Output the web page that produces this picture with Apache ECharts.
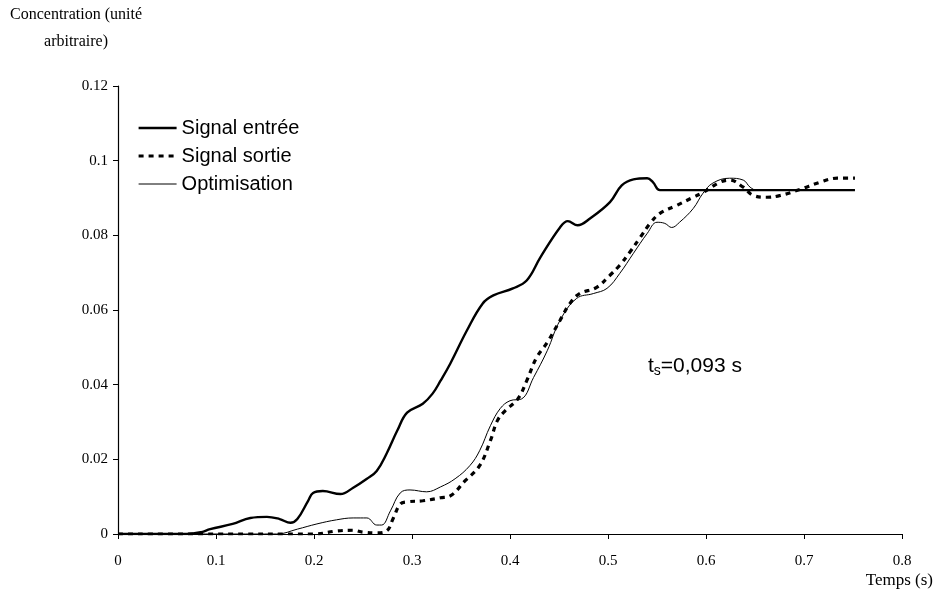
<!DOCTYPE html>
<html>
<head>
<meta charset="utf-8">
<script src="https://cdn.jsdelivr.net/npm/echarts@6/dist/echarts.min.js"></script>
<style>
  html, body { margin: 0; padding: 0; background: #fff; }
  #chart { width: 934px; height: 598px; }
</style>
</head>
<body>
<div id="chart"></div>
<script>
// time (s) / concentration pairs
const entreeT = [0, 0.07, 0.085, 0.094, 0.117, 0.135, 0.152, 0.165, 0.176, 0.183, 0.194, 0.199, 0.209, 0.227, 0.24, 0.254, 0.264, 0.274, 0.285, 0.295, 0.311, 0.321, 0.329, 0.339, 0.356, 0.372, 0.383, 0.403, 0.417, 0.431, 0.451, 0.459, 0.469, 0.482, 0.502, 0.514, 0.526, 0.54, 0.546, 0.553, 0.6, 0.7, 0.752]
const entreeC = [0, 0, 0.0005, 0.0013, 0.0027, 0.0043, 0.0046, 0.004, 0.003, 0.004, 0.0089, 0.011, 0.0115, 0.0107, 0.0124, 0.0148, 0.0169, 0.0215, 0.0277, 0.0325, 0.0349, 0.0376, 0.041, 0.0456, 0.0545, 0.0617, 0.0639, 0.0658, 0.0679, 0.0741, 0.0821, 0.0838, 0.0827, 0.0846, 0.0889, 0.0934, 0.095, 0.0953, 0.0942, 0.0921, 0.0921, 0.0921, 0.0921]

const sortieT = [0, 0.1, 0.2, 0.223, 0.24, 0.25, 0.264, 0.274, 0.281, 0.288, 0.295, 0.311, 0.329, 0.339, 0.354, 0.369, 0.38, 0.387, 0.395, 0.408, 0.417, 0.427, 0.438, 0.451, 0.461, 0.471, 0.488, 0.502, 0.512, 0.522, 0.533, 0.543, 0.553, 0.57, 0.587, 0.597, 0.614, 0.624, 0.638, 0.648, 0.662, 0.676, 0.696, 0.716, 0.734, 0.752]
const sortieC = [0, 0, 0, 0.0008, 0.001, 0.0005, 0.0003, 0.0008, 0.0043, 0.008, 0.0086, 0.0089, 0.0097, 0.0102, 0.0142, 0.0183, 0.025, 0.0303, 0.033, 0.0362, 0.041, 0.0472, 0.0513, 0.0572, 0.0617, 0.0644, 0.066, 0.0693, 0.072, 0.0754, 0.0795, 0.0832, 0.0859, 0.088, 0.0902, 0.0915, 0.0942, 0.0948, 0.0929, 0.0907, 0.0902, 0.0907, 0.0923, 0.0942, 0.0953, 0.0953]

const optimT = [0, 0.162, 0.183, 0.203, 0.223, 0.24, 0.254, 0.264, 0.269, 0.278, 0.288, 0.298, 0.315, 0.329, 0.344, 0.359, 0.369, 0.38, 0.39, 0.4, 0.412, 0.424, 0.438, 0.451, 0.468, 0.485, 0.499, 0.512, 0.526, 0.54, 0.55, 0.558, 0.565, 0.573, 0.587, 0.597, 0.607, 0.624, 0.638, 0.645, 0.652, 0.7, 0.752]
const optimC = [0, 0, 0.0013, 0.0027, 0.0038, 0.0043, 0.0043, 0.0024, 0.0024, 0.0062, 0.011, 0.0118, 0.0113, 0.0126, 0.0148, 0.0183, 0.0223, 0.029, 0.0336, 0.0357, 0.0362, 0.0419, 0.0491, 0.0572, 0.0631, 0.0644, 0.0658, 0.0698, 0.0752, 0.0805, 0.0835, 0.0832, 0.0821, 0.0835, 0.0872, 0.0913, 0.094, 0.0953, 0.0948, 0.0929, 0.0921, 0.0921, 0.0921]

const seriesNames = ['Signal entrée', 'Signal sortie', 'Optimisation']

const zip = (t, c) => t.map((v, i) => [v, c[i]])

const serif = '"Liberation Serif", "DejaVu Serif", serif'
const sans = '"Liberation Sans", Arial, sans-serif'

const lineStyles = [
  { color: '#000', width: 2.4, type: 'solid' },
  { color: '#000', width: 3.2, type: [5, 5] },
  { color: '#000', width: 1, type: 'solid' }
]

const baseSerie = () => {
  return {
    type: 'line',
    smooth: 0.4,
    symbol: 'none',
    color: '#000',
    itemStyle: { color: '#000' },
    z: 3
  }
}

const option = {
  animation: false,
  grid: { left: 118, right: 32, top: 86, bottom: 64 },
  legend: {
    orient: 'vertical',
    left: 132,
    top: 113,
    itemWidth: 38,
    itemHeight: 14,
    itemGap: 8,
    itemStyle: { opacity: 0 },
    textStyle: { fontFamily: sans, fontSize: 20, color: '#000' },
    data: seriesNames.map((n, i) => ({ name: n, lineStyle: lineStyles[i] }))
  },
  xAxis: {
    type: 'value',
    min: 0,
    max: 0.8,
    interval: 0.1,
    splitLine: { show: false },
    axisLine: { onZero: false, lineStyle: { color: '#000', width: 1.2 } },
    axisTick: { inside: false, length: 5, lineStyle: { color: '#000' } },
    axisLabel: { color: '#000', fontFamily: serif, fontSize: 15, margin: 20 }
  },
  yAxis: {
    type: 'value',
    min: 0,
    max: 0.12,
    interval: 0.02,
    splitLine: { show: false },
    axisLine: { show: true, lineStyle: { color: '#000', width: 1.2 } },
    axisTick: { show: true, inside: false, length: 5, lineStyle: { color: '#000' } },
    axisLabel: { color: '#000', fontFamily: serif, fontSize: 15, margin: 10 }
  },
  graphic: [
    {
      type: 'text',
      x: 76, y: 1,
      style: {
        text: 'Concentration (unité\narbitraire)',
        align: 'center',
        textAlign: 'center',
        lineHeight: 27,
        font: '16px ' + serif,
        fill: '#000'
      }
    },
    {
      type: 'text',
      x: 933, y: 572,
      style: {
        text: 'Temps (s)',
        textAlign: 'right',
        font: '17px ' + serif,
        fill: '#000'
      }
    },
    {
      type: 'text',
      x: 648, y: 354,
      style: {
        text: '{a|t}{b|s}{a|=0,093 s}',
        rich: {
          a: { fontFamily: sans, fontSize: 21, color: '#000' },
          b: { fontFamily: sans, fontSize: 14, color: '#000', padding: [10, 0, 0, 0] }
        }
      }
    }
  ],
  series: [
    Object.assign(baseSerie(), {
      name: seriesNames[0],
      data: zip(entreeT, entreeC),
      lineStyle: lineStyles[0]
    }),
    Object.assign(baseSerie(), {
      name: seriesNames[1],
      data: zip(sortieT, sortieC),
      lineStyle: lineStyles[1]
    }),
    Object.assign(baseSerie(), {
      name: seriesNames[2],
      data: zip(optimT, optimC),
      lineStyle: lineStyles[2]
    })
  ]
}

const chart = echarts.init(document.getElementById('chart'), null, { renderer: 'canvas' })
chart.setOption(option)
</script>
</body>
</html>
